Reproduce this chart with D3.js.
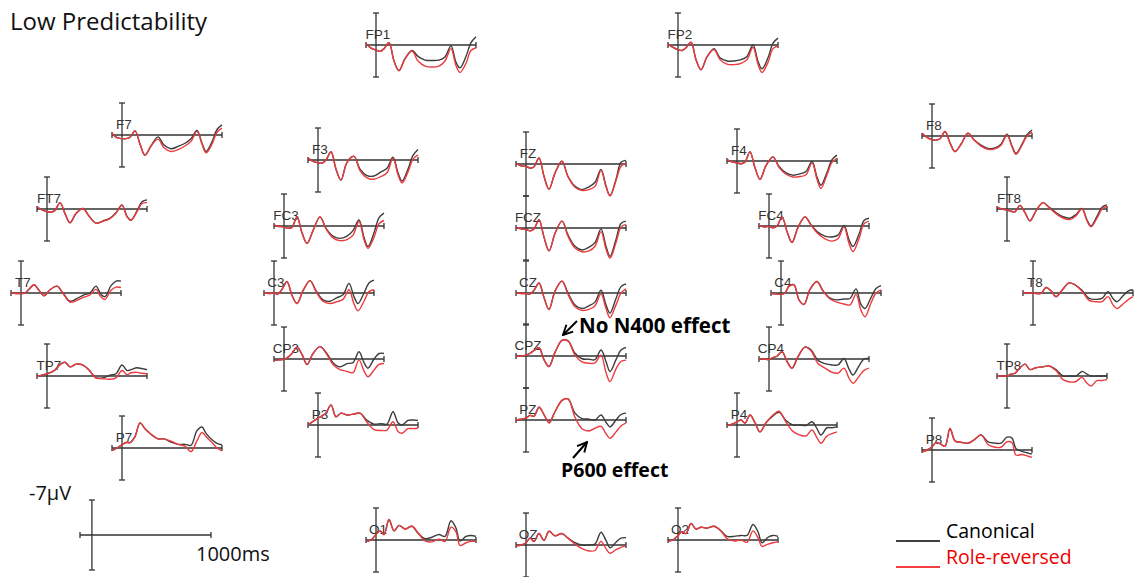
<!DOCTYPE html>
<html>
<head>
<meta charset="utf-8">
<script src="https://cdn.jsdelivr.net/npm/d3@7"></script>
<style>
body { margin: 0; background: #fff; }
</style>
</head>
<body>
<div id="mainArea"></div>
<script>
// time points (ms) the waveforms were read at
var times = [-100,-50,0,40,80,130,180,230,290,360,420,490,560,630,690,750,800,840,900,950,1000];

// amplitudes in microvolts (positive plotted down), canonical / role-reversed
var canFP1 = [-0.3,0.7,1.1,1.4,0.8,-0.5,3.5,5.6,3.0,1.2,2.5,3.3,3.4,3.3,2.6,0.2,3.8,5.0,2.5,-0.5,-1.8];
var revFP1 = [-0.3,0.7,1.1,1.4,0.8,-0.5,3.5,5.6,3.0,1.3,3.5,4.6,4.8,4.6,3.5,0.8,4.5,6.0,4.0,1.2,0.6];
var canFP2 = [-0.2,0.5,1.0,1.2,0.6,-0.6,3.2,5.4,2.6,0.8,2.8,3.5,3.5,3.2,2.5,0.0,3.6,5.2,2.8,-0.4,-1.5];
var revFP2 = [-0.2,0.5,1.0,1.2,0.6,-0.6,3.2,5.4,2.6,1.0,3.2,4.2,4.3,4.0,3.2,0.5,4.2,6.0,3.8,0.8,0.2];
var canF7 = [-0.4,0.6,0.8,0.8,0.5,-0.9,2.0,4.4,2.4,0.4,2.2,3.0,2.5,1.8,0.8,-1.0,1.8,3.6,1.5,-1.2,-2.2];
var revF7 = [-0.4,0.6,0.8,0.8,0.5,-0.9,2.0,4.4,2.4,0.9,2.8,3.6,3.2,2.4,1.4,-0.8,2.0,3.9,2.0,-0.6,-1.5];
var canF3 = [-0.4,0.3,0.6,0.7,0.0,-1.8,2.0,4.4,0.5,-0.8,2.0,3.4,3.5,2.6,1.8,-0.6,2.8,4.6,2.0,-1.0,-2.3];
var revF3 = [-0.4,0.3,0.6,0.7,0.0,-1.8,2.0,4.4,0.5,-0.8,2.3,3.9,4.2,3.6,2.8,-0.4,3.2,5.0,2.6,-0.2,-1.1];
var canFZ = [-0.2,0.4,0.5,0.9,0.6,-1.3,2.7,5.5,2.0,-0.6,2.7,4.9,5.6,5.0,4.0,1.2,4.8,6.9,3.4,-0.4,-0.8];
var revFZ = [-0.2,0.4,0.5,0.9,0.6,-1.3,2.7,5.5,2.0,-0.6,2.8,5.1,5.8,5.6,4.9,1.4,5.0,7.0,3.6,0.5,-0.2];
var canF4 = [-0.3,0.2,0.4,0.6,0.2,-2.0,1.5,4.0,1.0,-0.9,1.2,2.6,3.1,2.8,2.3,0.1,3.5,5.3,2.5,-0.3,-1.3];
var revF4 = [-0.3,0.2,0.4,0.6,0.2,-2.0,1.5,4.0,1.0,-0.9,1.4,2.9,3.5,3.4,3.0,0.4,4.0,6.0,3.0,0.3,-0.6];
var canF8 = [-0.6,0.3,0.8,0.9,0.6,-1.0,1.5,3.4,1.8,-0.6,0.8,2.0,2.7,2.6,1.8,-0.4,2.2,3.8,1.8,-0.3,-1.3];
var revF8 = [-0.6,0.3,0.8,0.9,0.6,-1.0,1.5,3.4,1.8,-0.6,0.9,2.2,2.9,2.8,2.0,-0.2,2.4,4.0,2.0,0.0,-0.9];
var canFT7 = [-0.5,0.2,0.6,0.7,0.3,-1.4,1.0,3.0,1.0,-0.1,1.5,3.1,2.6,2.0,0.8,-0.9,1.6,2.4,0.4,-1.6,-2.0];
var revFT7 = [-0.5,0.2,0.6,0.7,0.3,-1.4,1.0,3.0,1.0,-0.1,1.6,3.1,2.7,2.1,0.9,-0.8,1.7,2.5,0.6,-1.2,-1.4];
var canFC3 = [-0.2,0.1,0.2,0.5,0.3,-2.0,1.5,3.8,1.0,-2.0,0.5,2.2,2.7,2.2,1.0,-1.3,2.5,4.5,1.5,-1.8,-2.8];
var revFC3 = [-0.2,0.1,0.2,0.5,0.3,-2.0,1.5,3.8,1.0,-2.0,0.6,2.6,3.2,3.0,2.0,-1.0,3.0,4.9,2.5,-0.5,-1.2];
var canFCZ = [-0.2,0.2,0.3,0.6,0.2,-1.8,2.0,5.0,1.2,-1.5,1.5,4.0,4.8,4.2,3.2,0.2,4.0,6.2,2.5,-1.0,-1.5];
var revFCZ = [-0.2,0.2,0.3,0.6,0.2,-1.8,2.0,5.0,1.2,-1.5,1.8,4.4,5.2,5.0,4.0,0.8,4.6,6.6,3.2,-0.2,-0.8];
var canFC4 = [-0.2,0.2,0.1,0.4,0.0,-2.0,1.2,3.6,0.3,-2.0,-0.3,1.4,2.2,2.4,2.0,-0.1,3.0,4.5,1.8,-1.2,-1.7];
var revFC4 = [-0.2,0.2,0.1,0.4,0.0,-2.0,1.2,3.6,0.3,-2.0,-0.2,1.7,2.8,3.3,2.8,0.2,3.8,5.6,2.8,-0.5,-1.0];
var canFT8 = [-0.4,0.0,0.2,0.5,0.6,-0.8,0.8,2.6,0.4,-1.4,-0.4,0.8,1.7,2.0,1.2,-0.1,2.4,3.7,1.6,-0.4,-0.9];
var revFT8 = [-0.4,0.0,0.2,0.5,0.6,-0.8,0.8,2.6,0.4,-1.4,-0.3,1.0,2.0,2.3,1.5,0.0,2.6,3.9,2.0,0.0,-0.6];
var canT7 = [0.0,0.1,0.1,0.0,-0.8,-1.8,-0.6,0.6,-0.7,-1.5,0.0,1.8,1.2,0.4,0.0,-1.5,0.3,0.8,-1.6,-2.6,-2.6];
var revT7 = [0.0,0.1,0.1,0.0,-0.8,-1.8,-0.6,0.6,-0.7,-1.5,0.1,2.0,1.6,0.9,0.4,-0.8,0.9,1.4,-0.6,-1.3,-1.2];
var canC3 = [0.0,0.1,0.0,0.2,-0.8,-2.5,0.5,2.3,-0.5,-2.7,-0.5,1.5,1.8,1.0,0.4,-2.1,0.8,2.3,0.0,-2.2,-2.8];
var revC3 = [0.0,0.1,0.0,0.2,-0.8,-2.5,0.5,2.3,-0.5,-2.7,-0.3,1.8,2.3,1.9,1.4,-0.7,2.4,3.9,1.8,-0.3,-0.7];
var canCZ = [0.0,0.1,0.1,0.2,-0.6,-2.2,1.0,3.6,-0.4,-2.6,0.0,2.6,3.4,2.8,2.0,-0.6,2.6,4.4,1.2,-1.4,-2.0];
var revCZ = [0.0,0.1,0.1,0.2,-0.6,-2.2,1.0,3.6,-0.4,-2.6,0.3,3.0,3.8,3.6,2.8,0.2,3.4,5.4,2.6,0.0,-0.9];
var canC4 = [0.1,0.2,0.3,0.0,-1.5,-1.8,1.5,2.5,-0.8,-2.5,-0.5,1.1,1.5,1.3,1.2,-0.9,2.5,3.4,1.0,-1.0,-1.6];
var revC4 = [0.1,0.2,0.3,0.0,-1.5,-1.8,1.5,2.5,-0.8,-2.5,-0.4,1.3,2.0,2.4,2.6,0.3,3.8,5.2,2.2,0.0,-0.7];
var canT8 = [0.0,0.0,0.0,0.1,0.1,-1.2,-0.5,0.8,-0.6,-2.2,-1.8,-0.6,1.2,1.4,1.2,-0.3,1.2,1.9,0.6,-0.4,-0.7];
var revT8 = [0.0,0.0,0.0,0.1,0.1,-1.2,-0.5,0.8,-0.6,-2.2,-1.8,-0.4,1.6,1.9,1.9,0.8,2.6,3.4,2.4,1.5,0.8];
var canTP7 = [0.1,-0.2,-0.5,-0.8,-1.3,-2.5,-3.0,-2.0,-2.6,-2.4,-1.3,0.4,0.4,-0.2,-0.5,-2.4,-1.2,-1.4,-1.8,-1.6,-1.4];
var revTP7 = [0.1,-0.2,-0.5,-0.8,-1.3,-2.5,-3.0,-2.0,-2.6,-2.4,-1.3,0.4,0.6,0.7,0.4,-1.2,-0.3,-0.7,-0.8,-0.6,-0.5];
var canCP3 = [0.3,0.2,0.1,-0.4,-1.2,-2.6,-1.0,1.2,-1.2,-2.7,-1.5,0.8,1.7,1.0,0.8,-1.6,0.8,2.0,0.0,-1.2,-1.2];
var revCP3 = [0.3,0.2,0.1,-0.4,-1.2,-2.6,-1.0,1.2,-1.2,-2.7,-1.3,1.2,2.3,2.7,3.0,0.2,2.6,3.9,2.4,1.2,1.0];
var canCPZ = [0.1,0.0,-0.2,-0.6,-1.2,-1.8,0.8,2.3,-0.8,-3.4,-3.3,-0.6,0.6,0.7,0.8,-1.3,1.2,3.4,0.8,-1.3,-1.9];
var revCPZ = [0.1,0.0,-0.2,-0.6,-1.2,-1.8,0.8,2.3,-0.8,-3.4,-3.3,-0.2,1.3,1.6,1.5,-0.2,3.6,5.6,2.8,1.2,0.9];
var canCP4 = [0.0,0.0,0.1,-0.3,-0.6,-1.6,0.5,2.0,-0.5,-2.6,-2.0,0.3,1.0,1.3,1.3,-0.1,2.2,3.5,1.5,0.0,-0.1];
var revCP4 = [0.0,0.0,0.1,-0.3,-0.6,-1.6,0.5,2.0,-0.5,-2.6,-1.8,1.0,2.0,2.9,3.1,2.0,4.2,5.3,3.8,2.5,2.0];
var canTP8 = [0.0,0.0,0.0,-0.4,-0.6,-1.8,-2.6,-1.4,-1.8,-2.0,-2.2,-1.4,0.0,0.0,0.0,-1.0,-0.4,0.0,0.0,0.0,0.0];
var revTP8 = [0.0,0.0,0.0,-0.4,-0.6,-1.8,-2.6,-1.4,-1.8,-2.0,-2.2,-1.2,0.8,1.3,1.2,0.3,1.6,2.2,1.0,1.0,0.8];
var canP7 = [0.6,0.0,-0.7,-1.2,-1.2,-2.5,-5.5,-4.2,-3.0,-2.0,-2.0,-1.3,-0.8,-0.8,-0.6,-3.8,-4.6,-3.2,-1.8,-1.0,-0.7];
var revP7 = [0.6,0.0,-0.7,-1.2,-1.2,-2.5,-5.5,-4.2,-3.0,-2.0,-2.0,-1.5,-0.8,-0.4,0.8,-1.6,-3.4,-2.5,-1.2,0.0,0.6];
var canP3 = [0.0,-0.8,-1.5,-2.0,-2.6,-4.4,-1.8,-2.6,-2.2,-2.4,-2.6,-1.0,-0.2,-0.3,-0.2,-2.9,-0.5,0.0,-1.0,-1.1,-1.0];
var revP3 = [0.0,-0.8,-1.5,-2.0,-2.6,-4.4,-1.8,-2.6,-2.2,-2.4,-2.6,-0.6,1.0,1.2,1.1,-0.7,1.4,1.8,0.8,0.8,0.7];
var canPZ = [0.0,-0.2,-0.4,-1.0,-0.8,-2.8,-1.2,0.6,-1.8,-4.3,-4.6,-1.5,-0.3,-0.2,0.0,-1.1,0.5,1.5,0.0,-1.2,-1.5];
var revPZ = [0.0,-0.2,-0.4,-1.0,-0.8,-2.8,-1.2,0.6,-1.8,-4.3,-4.6,-0.6,1.9,2.4,1.8,1.4,3.0,4.0,2.6,1.3,0.7];
var canP4 = [0.2,-0.2,-0.7,-1.1,-0.4,-2.2,-0.5,1.5,-0.5,-2.0,-2.8,-1.0,0.0,0.0,0.1,-0.7,0.8,2.2,0.6,0.6,0.4];
var revP4 = [0.2,-0.2,-0.7,-1.1,-0.4,-2.2,-0.5,1.5,-0.5,-2.2,-3.0,-0.6,1.4,2.2,2.4,1.1,2.8,4.0,2.4,1.9,1.5];
var canP8 = [0.4,0.0,-0.7,-1.6,-1.4,-0.8,-4.7,-2.0,-1.7,-1.5,-2.2,-3.3,-1.8,-1.5,-1.5,-2.8,-2.6,-0.3,0.3,0.6,0.9];
var revP8 = [0.4,0.0,-0.7,-1.6,-1.4,-0.8,-4.7,-2.0,-1.7,-1.5,-2.2,-3.3,-1.2,-0.6,-0.6,-1.8,-1.6,1.1,1.0,1.3,1.6];
var canO1 = [0.3,0.0,-1.2,-2.0,-1.2,-4.5,-2.0,-3.2,-2.4,-3.0,-1.5,-0.3,-0.6,-1.2,-0.8,-4.2,-2.6,0.2,-0.8,-1.0,-0.8];
var revO1 = [0.3,0.0,-1.2,-2.0,-1.2,-4.5,-2.0,-3.2,-2.4,-3.0,-1.6,0.2,0.4,-0.2,0.3,-2.8,-1.8,1.2,0.6,0.3,0.3];
var canOZ = [0.2,0.0,-0.5,-1.5,-0.8,-2.5,-1.0,-3.0,-2.0,-2.5,-1.5,-0.5,0.0,0.0,-0.2,-2.8,-1.0,0.6,-0.6,-1.5,-1.6];
var revOZ = [0.2,0.0,-0.5,-1.5,-0.8,-2.5,-1.0,-3.0,-2.0,-2.5,-1.5,-0.2,0.8,1.3,1.2,-0.8,0.8,1.8,1.0,0.5,0.2];
var canO2 = [0.3,0.0,-1.0,-1.8,-1.4,-3.6,-2.4,-2.8,-2.6,-3.0,-2.2,-0.8,-0.8,-1.0,-1.0,-3.4,-1.8,0.6,-0.6,-1.0,-0.8];
var revO2 = [0.3,0.0,-1.0,-1.8,-1.4,-3.6,-2.4,-2.8,-2.6,-3.0,-2.2,-0.3,0.2,0.0,0.5,-2.0,-0.5,1.4,0.9,0.6,0.4];

var electrodes = ["FP1","FP2","F7","F3","FZ","F4","F8","FT7","FC3","FCZ","FC4","FT8",
                  "T7","C3","CZ","C4","T8","TP7","CP3","CPZ","CP4","TP8",
                  "P7","P3","PZ","P4","P8","O1","OZ","O2"];
var conditions = ["Canonical", "Role-reversed"];

// table for drawing
var waves = {
  FP1:[canFP1,revFP1], FP2:[canFP2,revFP2], F7:[canF7,revF7], F3:[canF3,revF3], FZ:[canFZ,revFZ],
  F4:[canF4,revF4], F8:[canF8,revF8], FT7:[canFT7,revFT7], FC3:[canFC3,revFC3], FCZ:[canFCZ,revFCZ],
  FC4:[canFC4,revFC4], FT8:[canFT8,revFT8], T7:[canT7,revT7], C3:[canC3,revC3], CZ:[canCZ,revCZ],
  C4:[canC4,revC4], T8:[canT8,revT8], TP7:[canTP7,revTP7], CP3:[canCP3,revCP3], CPZ:[canCPZ,revCPZ],
  CP4:[canCP4,revCP4], TP8:[canTP8,revTP8], P7:[canP7,revP7], P3:[canP3,revP3], PZ:[canPZ,revPZ],
  P4:[canP4,revP4], P8:[canP8,revP8], O1:[canO1,revO1], OZ:[canOZ,revOZ], O2:[canO2,revO2]
};

// where each panel's origin (0 ms, 0 uV) sits on the page
var panelPos = {
  FP1:[376,45], FP2:[678,45],
  F7:[122,135], F3:[318,160], FZ:[526,164], F4:[737,161], F8:[932,136],
  FT7:[47,209], FC3:[284,226], FCZ:[526,228], FC4:[769,226], FT8:[1007,209],
  T7:[21,293], C3:[274,293], CZ:[526,293], C4:[781,293], T8:[1033,293],
  TP7:[47,376], CP3:[284,359], CPZ:[526,356], CP4:[769,359], TP8:[1007,376],
  P7:[122,448], P3:[318,425], PZ:[526,420], P4:[737,425], P8:[932,450],
  O1:[376,540], OZ:[526,545], O2:[678,540]
};

var width = 1135, height = 577;
var colors = ["#3c3c3c", "#ec3b3f"];
var axisColor = "#333";

var svg = d3.select("#mainArea").append("svg")
    .attr("width", width).attr("height", height)
    .style("font-family", "'Open Sans', Lato, sans-serif");

// draws the little cross shaped axes of one panel
function drawAxes(g, x, y, tick) {
  g.append("line").attr("x1", x(-100)).attr("x2", x(1000)).attr("y1", y(0)).attr("y2", y(0));
  g.append("line").attr("x1", x(0)).attr("x2", x(0)).attr("y1", y(-7)).attr("y2", y(7));
  // end ticks
  g.append("line").attr("x1", x(-100)).attr("x2", x(-100)).attr("y1", y(0) - tick).attr("y2", y(0) + tick);
  g.append("line").attr("x1", x(1000)).attr("x2", x(1000)).attr("y1", y(0) - tick).attr("y2", y(0) + tick);
  g.append("line").attr("x1", x(0) - tick).attr("x2", x(0) + tick).attr("y1", y(-7)).attr("y2", y(-7));
  g.append("line").attr("x1", x(0) - tick).attr("x2", x(0) + tick).attr("y1", y(7)).attr("y2", y(7));
  g.selectAll("line").attr("stroke", axisColor).attr("stroke-width", 1.3);
}

electrodes.forEach(function(name) {
  var p = panelPos[name];
  var x = d3.scaleLinear().domain([-100, 1000]).range([p[0] - 10, p[0] + 100]);
  var y = d3.scaleLinear().domain([-7, 7]).range([p[1] - 32, p[1] + 32]);
  var g = svg.append("g").attr("class", "panel");
  var axG = g.append("g");
  drawAxes(axG, x, y, 3);

  g.append("text")
    .attr("x", p[0] + 2).attr("y", p[1] - 6)
    .attr("text-anchor", "middle")
    .style("font-family", "'Liberation Sans', Arial, sans-serif")
    .style("font-size", "13.5px")
    .attr("fill", "#333")
    .text(name);

  var line = d3.line()
    .x(function(d, i) { return x(times[i]); })
    .y(function(d) { return y(d); })
    .curve(d3.curveCatmullRom.alpha(0.5));

  g.selectAll("path.wave")
    .data(waves[name])
    .enter()
    .append("path")
    .attr("class", "wave")
    .attr("d", line)
    .attr("fill", "none")
    .attr("stroke", function(d, i) { return colors[i]; })
    .attr("stroke-width", 1.4);
});

// scale bar
var sx = d3.scaleLinear().domain([-100, 1000]).range([80, 211]);
var sy = d3.scaleLinear().domain([-7, 7]).range([500, 570]);
drawAxes(svg.append("g"), sx, sy, 3);
svg.append("text").attr("x", 29).attr("y", 500).style("font-size", "20px").attr("fill", "#111").text("-7\u00b5V");
svg.append("text").attr("x", 196).attr("y", 561).style("font-size", "20px").attr("fill", "#111").text("1000ms");

// title
svg.append("text").attr("x", 10).attr("y", 30).style("font-size", "24px").attr("fill", "#111")
  .text("Low Predictability");

// annotations
var defs = svg.append("defs");
defs.append("marker").attr("id", "arrow")
  .attr("viewBox", "0 0 10 10").attr("refX", 9).attr("refY", 5)
  .attr("markerWidth", 6).attr("markerHeight", 6).attr("orient", "auto")
  .append("path").attr("d", "M1,1 L9,5 L1,9").attr("fill", "none")
  .attr("stroke", "#000").attr("stroke-width", 1.6);

svg.append("line").attr("x1", 577).attr("y1", 321).attr("x2", 563).attr("y2", 335)
  .attr("stroke", "#000").attr("stroke-width", 2).attr("marker-end", "url(#arrow)");
svg.append("text").attr("x", 579).attr("y", 333).style("font-size", "20.5px").style("font-weight", "bold")
  .attr("fill", "#000").text("No N400 effect");

svg.append("line").attr("x1", 573).attr("y1", 458).attr("x2", 587).attr("y2", 442)
  .attr("stroke", "#000").attr("stroke-width", 2).attr("marker-end", "url(#arrow)");
svg.append("text").attr("x", 561).attr("y", 477).style("font-size", "19.5px").style("font-weight", "bold")
  .attr("fill", "#000").text("P600 effect");

// legend
var legend = svg.append("g");
legend.selectAll("line")
  .data(conditions).enter().append("line")
  .attr("x1", 896).attr("x2", 940)
  .attr("y1", function(d, i) { return 541 + i * 26; })
  .attr("y2", function(d, i) { return 541 + i * 26; })
  .attr("stroke", function(d, i) { return i ? "#e00" : "#000"; })
  .attr("stroke-width", 1.5);
legend.selectAll("text")
  .data(conditions).enter().append("text")
  .attr("x", 946)
  .attr("y", function(d, i) { return 538 + i * 26; })
  .style("font-size", "19.5px")
  .attr("fill", function(d, i) { return i ? "#e00" : "#000"; })
  .text(function(d) { return d; });
</script>
</body>
</html>
